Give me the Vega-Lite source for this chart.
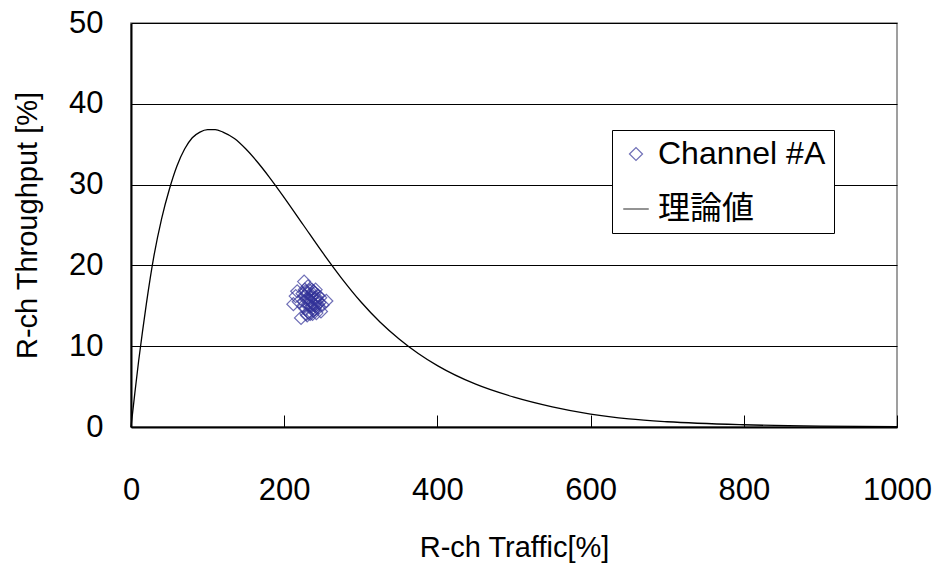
{
  "$schema": "https://vega.github.io/schema/vega-lite/v6.json",
  "width": 766,
  "height": 404,
  "autosize": {"type": "none"},
  "padding": {"left": 131, "top": 23, "right": 37, "bottom": 138},
  "background": "white",
  "config": {
    "font": "Liberation Sans, Noto Sans CJK JP",
    "view": {"stroke": "#808080", "strokeWidth": 1.5}
  },
  "datasets": {
    "curve": [
      {"x": 0, "y": 0}, {"x": 5, "y": 4.2}, {"x": 10, "y": 8.2}, {"x": 15, "y": 11.8},
      {"x": 20, "y": 15.2}, {"x": 30, "y": 21.2}, {"x": 40, "y": 25.8}, {"x": 50, "y": 29.4},
      {"x": 60, "y": 32.3}, {"x": 70, "y": 34.4}, {"x": 80, "y": 35.8}, {"x": 90, "y": 36.5},
      {"x": 100, "y": 36.8}, {"x": 110, "y": 36.8}, {"x": 120, "y": 36.5}, {"x": 135, "y": 35.7},
      {"x": 150, "y": 34.4}, {"x": 165, "y": 32.8}, {"x": 180, "y": 31.0}, {"x": 200, "y": 28.4},
      {"x": 225, "y": 25.0}, {"x": 250, "y": 21.6}, {"x": 275, "y": 18.4}, {"x": 300, "y": 15.5},
      {"x": 325, "y": 13.0}, {"x": 350, "y": 10.9}, {"x": 375, "y": 9.1}, {"x": 400, "y": 7.6},
      {"x": 450, "y": 5.3}, {"x": 500, "y": 3.7}, {"x": 550, "y": 2.5}, {"x": 600, "y": 1.6},
      {"x": 650, "y": 1.0}, {"x": 700, "y": 0.65}, {"x": 800, "y": 0.28}, {"x": 900, "y": 0.11},
      {"x": 1000, "y": 0.05}
    ],
    "pts": [
      {"x": 212, "y": 15.2, "s": "Channel #A"}, {"x": 217, "y": 16.8, "s": "Channel #A"},
      {"x": 222, "y": 13.5, "s": "Channel #A"}, {"x": 226, "y": 18.0, "s": "Channel #A"},
      {"x": 225, "y": 15.0, "s": "Channel #A"}, {"x": 226, "y": 16.2, "s": "Channel #A"},
      {"x": 227, "y": 17.0, "s": "Channel #A"}, {"x": 228, "y": 14.6, "s": "Channel #A"},
      {"x": 229, "y": 15.8, "s": "Channel #A"}, {"x": 230, "y": 16.5, "s": "Channel #A"},
      {"x": 231, "y": 15.2, "s": "Channel #A"}, {"x": 232, "y": 14.2, "s": "Channel #A"},
      {"x": 233, "y": 16.9, "s": "Channel #A"}, {"x": 234, "y": 15.6, "s": "Channel #A"},
      {"x": 235, "y": 14.9, "s": "Channel #A"}, {"x": 236, "y": 16.1, "s": "Channel #A"},
      {"x": 237, "y": 15.3, "s": "Channel #A"}, {"x": 238, "y": 14.4, "s": "Channel #A"},
      {"x": 239, "y": 15.9, "s": "Channel #A"}, {"x": 240, "y": 16.6, "s": "Channel #A"},
      {"x": 241, "y": 15.0, "s": "Channel #A"}, {"x": 242, "y": 14.1, "s": "Channel #A"},
      {"x": 243, "y": 15.7, "s": "Channel #A"}, {"x": 244, "y": 16.3, "s": "Channel #A"},
      {"x": 245, "y": 14.8, "s": "Channel #A"}, {"x": 246, "y": 15.4, "s": "Channel #A"},
      {"x": 248, "y": 14.3, "s": "Channel #A"}, {"x": 250, "y": 15.1, "s": "Channel #A"},
      {"x": 255, "y": 15.6, "s": "Channel #A"}, {"x": 228, "y": 16.8, "s": "Channel #A"},
      {"x": 231, "y": 17.4, "s": "Channel #A"}, {"x": 234, "y": 14.0, "s": "Channel #A"},
      {"x": 236, "y": 17.0, "s": "Channel #A"}, {"x": 226, "y": 15.5, "s": "Channel #A"},
      {"x": 229, "y": 14.0, "s": "Channel #A"}, {"x": 238, "y": 16.8, "s": "Channel #A"},
      {"x": 240, "y": 14.6, "s": "Channel #A"}, {"x": 244, "y": 15.2, "s": "Channel #A"},
      {"x": 232, "y": 15.9, "s": "Channel #A"}, {"x": 235, "y": 16.4, "s": "Channel #A"},
      {"x": 237, "y": 14.0, "s": "Channel #A"}, {"x": 224, "y": 16.5, "s": "Channel #A"},
      {"x": 219, "y": 15.5, "s": "Channel #A"}, {"x": 241, "y": 17.0, "s": "Channel #A"},
      {"x": 247, "y": 16.0, "s": "Channel #A"}, {"x": 230, "y": 13.8, "s": "Channel #A"},
      {"x": 233, "y": 15.0, "s": "Channel #A"}, {"x": 239, "y": 15.1, "s": "Channel #A"},
      {"x": 242, "y": 16.0, "s": "Channel #A"}, {"x": 215, "y": 16.2, "s": "Channel #A"}
    ]
  },
  "layer": [
    {
      "data": {"name": "curve"},
      "mark": {"type": "line", "color": "black", "strokeWidth": 1.3, "interpolate": "monotone"},
      "encoding": {
        "x": {
          "field": "x", "type": "quantitative",
          "scale": {"domain": [0, 1000], "nice": false},
          "axis": {
            "title": "R-ch Traffic[%]", "values": [0, 200, 400, 600, 800, 1000], "format": "d",
            "grid": false, "domainColor": "black", "domainWidth": 2, "labelFlush": false,
            "tickColor": "black", "tickSize": -12, "tickWidth": 1,
            "labelFontSize": 31, "labelColor": "black", "labelPadding": 60,
            "labelFont": "Liberation Sans",
            "titleFontSize": 29, "titleFontWeight": "normal", "titleColor": "black",
            "titlePadding": 28, "titleFont": "Liberation Sans"
          }
        },
        "y": {
          "field": "y", "type": "quantitative",
          "scale": {"domain": [0, 50], "nice": false},
          "axis": {
            "title": "R-ch Throughput [%]", "values": [0, 10, 20, 30, 40, 50],
            "grid": true, "gridColor": "black", "gridWidth": 1.2, "gridOpacity": 1,
            "domainColor": "black", "domainWidth": 2, "labelFlush": false,
            "tickColor": "black", "tickSize": 0,
            "labelFontSize": 31, "labelColor": "black", "labelPadding": 28,
            "labelFont": "Liberation Sans",
            "titleFontSize": 29, "titleFontWeight": "normal", "titleColor": "black",
            "titlePadding": 26, "titleFont": "Liberation Sans"
          }
        }
      }
    },
    {
      "data": {"name": "pts"},
      "mark": {"type": "point", "filled": false, "strokeWidth": 1.2},
      "encoding": {
        "x": {"field": "x", "type": "quantitative"},
        "y": {"field": "y", "type": "quantitative"},
        "shape": {
          "field": "s", "type": "nominal",
          "scale": {"domain": ["Channel #A", "理論値"], "range": ["diamond", "stroke"]},
          "legend": {
            "title": null, "orient": "none", "legendX": 481, "legendY": 107,
            "labelFontSize": 32, "labelColor": "black", "labelFont": "Liberation Sans, Noto Sans CJK JP",
            "labelLimit": 400,
            "strokeColor": "black", "fillColor": "white", "padding": 8,
            "rowPadding": 23, "labelOffset": 6, "symbolStrokeWidth": 1.2
          }
        },
        "size": {
          "field": "s", "type": "nominal",
          "scale": {"domain": ["Channel #A", "理論値"], "range": [170, 650]}
        },
        "color": {
          "field": "s", "type": "nominal",
          "scale": {"domain": ["Channel #A", "理論値"], "range": ["#333399", "black"]}
        }
      }
    }
  ]
}
